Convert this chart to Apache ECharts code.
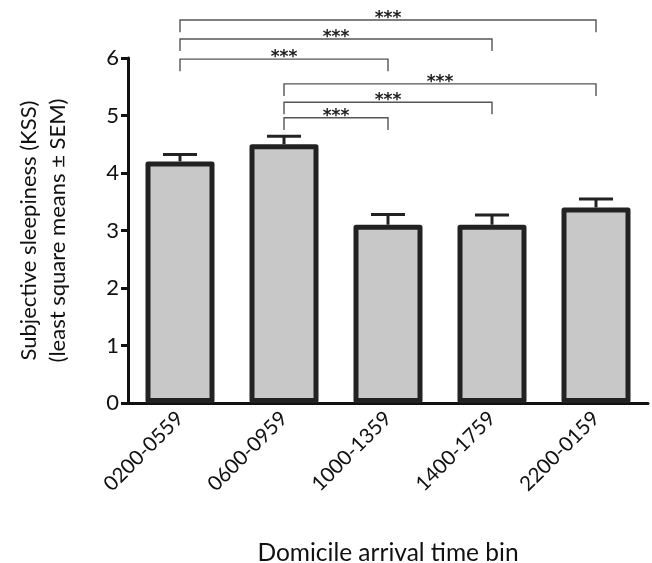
<!DOCTYPE html>
<html>
<head>
<meta charset="utf-8">
<script src="https://cdn.jsdelivr.net/npm/echarts@6/dist/echarts.min.js"></script>
<style>
html,body{margin:0;padding:0;background:#fff;}
#chart{width:652px;height:563px;}
</style>
</head>
<body>
<div id="chart"></div>
<script>
// Data
var categories = ['0200-0559', '0600-0959', '1000-1359', '1400-1759', '2200-0159'];
var means = [4.2, 4.5, 3.1, 3.1, 3.4];
var sems = [0.12, 0.14, 0.18, 0.17, 0.15];
var yTicks = [0, 1, 2, 3, 4, 5, 6];
// Significance brackets: from category index, to category index, height, label
var bracketFrom = [0, 0, 0, 1, 1, 1];
var bracketTo = [4, 3, 2, 4, 3, 2];
var bracketY = [6.66, 6.33, 5.98, 5.55, 5.23, 4.96];
var bracketLabel = ['***', '***', '***', '***', '***', '***'];

var FONT = 'Lato';
var chart = echarts.init(document.getElementById('chart'), null, {renderer: 'canvas'});

var errData = means.map(function (m, i) { return [i, m, sems[i]]; });
var brData = bracketFrom.map(function (f, i) { return [f, bracketTo[i], bracketY[i]]; });

var option = {
  animation: false,
  backgroundColor: '#fff',
  grid: {left: 128, right: 4, top: 58, bottom: 160, containLabel: false, outerBoundsMode: 'none'},
  xAxis: {
    type: 'category',
    data: categories,
    boundaryGap: true,
    axisLine: {lineStyle: {color: '#111', width: 3}},
    axisTick: {alignWithLabel: true, length: 8, lineStyle: {color: '#111', width: 3}},
    axisLabel: {rotate: 45, fontFamily: FONT, fontSize: 20.5, color: '#111', margin: 12},
    name: 'Domicile arrival time bin',
    nameLocation: 'middle',
    nameGap: 138,
    nameTextStyle: {fontFamily: FONT, fontSize: 24.5, color: '#111'}
  },
  yAxis: {
    type: 'value',
    min: yTicks[0],
    max: yTicks[yTicks.length - 1],
    interval: 1,
    splitLine: {show: false},
    axisLine: {show: true, lineStyle: {color: '#111', width: 3}},
    axisTick: {show: true, length: 7, lineStyle: {color: '#111', width: 3}},
    axisLabel: {fontFamily: FONT, fontSize: 22, color: '#111', margin: 9},
    name: 'Subjective sleepiness (KSS)\n(least square means \u00b1 SEM)',
    nameLocation: 'middle',
    nameGap: 56,
    nameTextStyle: {fontFamily: FONT, fontSize: 22, color: '#111', lineHeight: 29}
  },
  series: [
    {
      type: 'bar',
      data: means,
      barWidth: 69,
      itemStyle: {color: '#c8c8c8', borderColor: '#222', borderWidth: 5, borderJoin: 'round'},
      z: 3
    },
    {
      type: 'custom',
      data: errData,
      z: 2,
      clip: false,
      renderItem: function (params, api) {
        var i = api.value(0), m = api.value(1), s = api.value(2);
        var base = api.coord([i, m]);
        var top = api.coord([i, m + s]);
        var hw = 17;
        return {
          type: 'group',
          children: [
            {type: 'line', shape: {x1: base[0], y1: base[1], x2: top[0], y2: top[1]}, style: {stroke: '#222', lineWidth: 3}},
            {type: 'line', shape: {x1: top[0] - hw, y1: top[1], x2: top[0] + hw, y2: top[1]}, style: {stroke: '#222', lineWidth: 3}}
          ]
        };
      }
    },
    {
      type: 'custom',
      data: brData,
      z: 4,
      clip: false,
      renderItem: function (params, api) {
        var f = api.value(0), t = api.value(1), y = api.value(2);
        var p1 = api.coord([f, y]);
        var p2 = api.coord([t, y]);
        var drop = api.coord([f, y - 0.21])[1];
        var col = '#555';
        return {
          type: 'group',
          children: [
            {type: 'polyline', shape: {points: [[p1[0], drop], [p1[0], p1[1]], [p2[0], p2[1]], [p2[0], drop]]}, style: {stroke: col, lineWidth: 1.4, fill: null}},
            {type: 'text', x: (p1[0] + p2[0]) / 2, y: p1[1] + 7, style: {text: bracketLabel[params.dataIndex], fontFamily: 'DejaVu Sans', fontSize: 17, fontWeight: 'bold', fill: '#222', align: 'center', verticalAlign: 'bottom'}}
          ]
        };
      }
    }
  ]
};
chart.setOption(option);
</script>
</body>
</html>
